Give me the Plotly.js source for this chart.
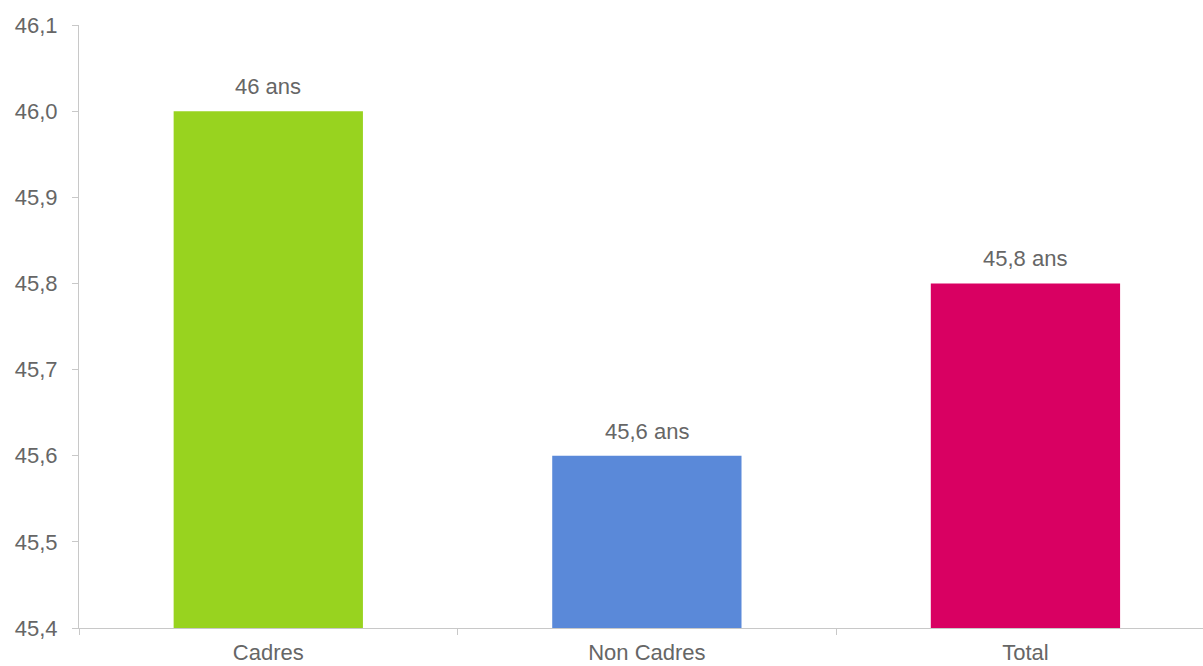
<!DOCTYPE html>
<html>
<head>
<meta charset="utf-8">
<script src="https://cdn.plot.ly/plotly-3.0.1.min.js"></script>
<style>html,body{margin:0;padding:0;background:#fff;}#chart{width:1203px;height:666px;}</style>
</head>
<body>
<div id="chart"></div>
<script>
const categories = ["Cadres", "Non Cadres", "Total"];
const values = [46.0, 45.6, 45.8];
const valueLabels = ["46 ans", "45,6 ans", "45,8 ans"];
const barColors = ["#98D31F", "#5A89D9", "#D90062"];
const yTicks = [45.4, 45.5, 45.6, 45.7, 45.8, 45.9, 46.0, 46.1];

const FONT = "Liberation Sans, Arial, sans-serif";
const TXT = "#666666";

const trace = {
  type: "bar",
  x: categories,
  y: values,
  marker: {color: barColors},
  hoverinfo: "none"
};

const annotations = categories.map((c, i) => ({
  x: c,
  y: values[i],
  xref: "x",
  yref: "y",
  text: valueLabels[i],
  showarrow: false,
  yanchor: "bottom",
  yshift: 10,
  font: {family: FONT, size: 22, color: TXT}
}));

const layout = {
  width: 1203,
  height: 666,
  margin: {l: 78.6, r: 0, t: 25, b: 38.3, pad: 0},
  paper_bgcolor: "#ffffff",
  plot_bgcolor: "#ffffff",
  separators: ", ",
  bargap: 0.5,
  showlegend: false,
  font: {family: FONT, size: 22, color: TXT},
  annotations: annotations,
  xaxis: {
    range: [-0.5, 2.469],
    showgrid: false,
    showline: true,
    linecolor: "#c8c8c8",
    linewidth: 1,
    ticks: "outside",
    tickson: "boundaries",
    ticklen: 6,
    tickcolor: "#c8c8c8",
    ticklabelstandoff: 5,
    tickfont: {family: FONT, size: 22, color: TXT},
    zeroline: false
  },
  yaxis: {
    range: [45.4, 46.1],
    tickvals: yTicks,
    tickformat: ".1f",
    showgrid: false,
    showline: true,
    linecolor: "#c8c8c8",
    linewidth: 1,
    ticks: "outside",
    ticklen: 6,
    tickcolor: "#c8c8c8",
    ticklabelstandoff: 10,
    tickfont: {family: FONT, size: 22, color: TXT},
    zeroline: false
  }
};

Plotly.newPlot("chart", [trace], layout, {displayModeBar: false, staticPlot: true});
</script>
</body>
</html>
